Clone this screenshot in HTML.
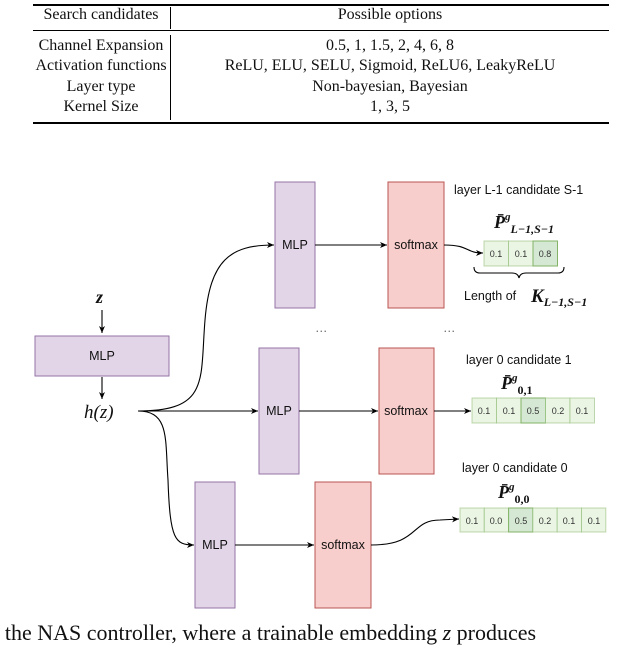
<!DOCTYPE html>
<html><head><meta charset="utf-8"><style>
body{margin:0;background:#fff;width:640px;height:642px;overflow:hidden;position:relative;font-family:"Liberation Serif",serif}
.t{position:absolute;font-size:16px;color:#111;white-space:nowrap}
.c{transform:translateX(-50%)}
</style></head><body>
<div style="position:absolute;left:33px;top:4px;width:576px;height:2px;background:#000"></div>
<div style="position:absolute;left:33px;top:30px;width:576px;height:1px;background:#000"></div>
<div style="position:absolute;left:33px;top:122px;width:576px;height:2px;background:#000"></div>
<div style="position:absolute;left:170px;top:7px;width:1px;height:22px;background:#000"></div>
<div style="position:absolute;left:170px;top:35px;width:1px;height:85px;background:#000"></div>
<div class="t c" style="left:101px;top:6px">Search candidates</div>
<div class="t c" style="left:390px;top:6px">Possible options</div>
<div class="t c" style="left:101px;top:36px;line-height:20.3px;text-align:center">Channel Expansion<br>Activation functions<br>Layer type<br>Kernel Size</div>
<div class="t c" style="left:390px;top:36px;line-height:20.3px;text-align:center">0.5, 1, 1.5, 2, 4, 6, 8<br>ReLU, ELU, SELU, Sigmoid, ReLU6, LeakyReLU<br>Non-bayesian, Bayesian<br>1, 3, 5</div>
<svg width="640" height="642" style="position:absolute;left:0;top:0" font-family="Liberation Sans, sans-serif">
<defs><marker id="a" markerWidth="8" markerHeight="8" refX="7" refY="4" orient="auto" markerUnits="userSpaceOnUse"><path d="M0,1 L7,4 L0,7 L2,4z" fill="#000"/></marker></defs>
<g fill="#e1d5e7" stroke="#9673a6">
<rect x="35" y="336" width="134" height="40"/>
<rect x="275" y="182" width="40" height="126"/>
<rect x="259" y="348" width="40" height="126"/>
<rect x="195" y="482" width="40" height="126"/>
</g>
<g fill="#f8cecc" stroke="#b85450">
<rect x="388" y="182" width="56" height="126"/>
<rect x="379" y="348" width="55" height="126"/>
<rect x="315" y="482" width="56" height="126"/>
</g>
<g font-size="12.5" fill="#111" text-anchor="middle">
<text x="102" y="360">MLP</text><text x="295" y="249">MLP</text><text x="279" y="415">MLP</text><text x="215" y="549">MLP</text>
<text x="416" y="249">softmax</text><text x="406" y="415">softmax</text><text x="343" y="549">softmax</text>
</g>
<g stroke="#000" fill="none" stroke-width="1.1">
<path d="M102,310 V333" marker-end="url(#a)"/>
<path d="M102,377 V399" marker-end="url(#a)"/>
<path d="M138,411 C210,411 200,380 205,320 C210,260 230,245 274,245" marker-end="url(#a)"/>
<path d="M138,411 H258" marker-end="url(#a)"/>
<path d="M138,411 C170,411 165,440 168,480 C170,540 175,545 194,545" marker-end="url(#a)"/>
<path d="M315,245 H387" marker-end="url(#a)"/>
<path d="M299,411 H378" marker-end="url(#a)"/>
<path d="M235,545 H314" marker-end="url(#a)"/>
<path d="M444,245 C470,245 465,253 483,253" marker-end="url(#a)"/>
<path d="M434,411 H471" marker-end="url(#a)"/>
<path d="M371,545 C420,545 410,520 440,520 L459,519" marker-end="url(#a)"/>
<path d="M474,267 q0,6 6,6 h32 q6,0 7,5 q1,-5 7,-5 h32 q6,0 6,-6"/>
</g>
<g stroke="#82b366" stroke-opacity="0.5" fill="#eaf5e4">
<rect x="484" y="241" width="24.5" height="25"/><rect x="508.5" y="241" width="24.5" height="25"/><rect x="533" y="241" width="24.5" height="25" fill="#d5e8d4" stroke-opacity="1"/>
<rect x="472" y="398" width="24.5" height="25"/><rect x="496.5" y="398" width="24.5" height="25"/><rect x="521" y="398" width="24.5" height="25" fill="#d5e8d4" stroke-opacity="1"/><rect x="545.5" y="398" width="24.5" height="25"/><rect x="570" y="398" width="24.5" height="25"/>
<rect x="460" y="508" width="24.3" height="24"/><rect x="484.3" y="508" width="24.3" height="24"/><rect x="508.6" y="508" width="24.3" height="24" fill="#d5e8d4" stroke-opacity="1"/><rect x="532.9" y="508" width="24.3" height="24"/><rect x="557.2" y="508" width="24.3" height="24"/><rect x="581.5" y="508" width="24.3" height="24"/>
</g>
<g font-size="9" fill="#333" text-anchor="middle">
<text x="496" y="257">0.1</text><text x="521" y="257">0.1</text><text x="545" y="257">0.8</text>
<text x="484" y="414">0.1</text><text x="509" y="414">0.1</text><text x="533" y="414">0.5</text><text x="558" y="414">0.2</text><text x="582" y="414">0.1</text>
<text x="472" y="524">0.1</text><text x="496" y="524">0.0</text><text x="521" y="524">0.5</text><text x="545" y="524">0.2</text><text x="569" y="524">0.1</text><text x="594" y="524">0.1</text>
</g>
<g font-size="12.5" fill="#111">
<text x="454" y="194">layer L-1 candidate S-1</text>
<text x="464" y="300">Length of</text>
<text x="466" y="364">layer 0 candidate 1</text>
<text x="462" y="472">layer 0 candidate 0</text>
<text x="315" y="332" fill="#666">…</text><text x="443" y="332" fill="#666">…</text>
</g>
<g font-family="Liberation Serif, serif" font-style="italic" fill="#111" font-weight="bold">
<text x="96" y="303" font-size="18">z</text>
<text x="84" y="418" font-size="19" font-weight="normal">h(z)</text>
<text x="494" y="228" font-size="18">P̄<tspan font-size="11" dy="-8">g</tspan><tspan font-size="12" dy="13">L−1,S−1</tspan></text>
<text x="531" y="302" font-size="19">K<tspan font-size="12" dy="4">L−1,S−1</tspan></text>
<text x="501" y="389" font-size="18">P̄<tspan font-size="11" dy="-8">g</tspan><tspan font-size="12" dy="13" font-style="normal">0,1</tspan></text>
<text x="498" y="498" font-size="18">P̄<tspan font-size="11" dy="-8">g</tspan><tspan font-size="12" dy="13" font-style="normal">0,0</tspan></text>
</g>
</svg>
<div class="t" style="left:-8px;top:620px;font-size:22px">f the NAS controller, where a trainable embedding <i>z</i> produces</div>
</body></html>
